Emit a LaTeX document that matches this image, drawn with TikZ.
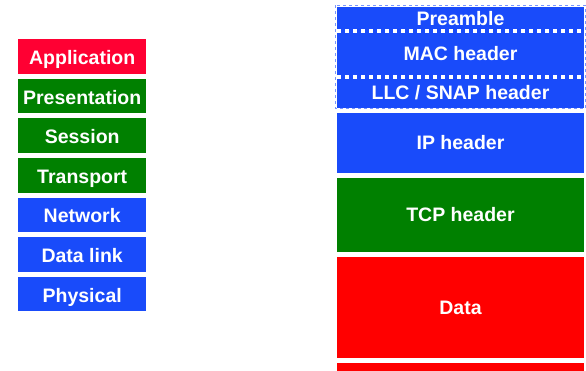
\documentclass[tikz,border=0pt]{standalone}
\usepackage{fontspec}
\setmainfont{Liberation Sans}
\usetikzlibrary{positioning}
\usetikzlibrary{calc}
\usetikzlibrary{matrix}

\definecolor{appred}{RGB}{255,0,51}
\definecolor{datared}{RGB}{255,0,0}
\definecolor{laygreen}{RGB}{0,128,0}
\definecolor{layblue}{RGB}{25,75,250}
\definecolor{framblue}{RGB}{120,150,255}

\tikzset{
  layer/.style={ minimum height = 34.5pt
               , minimum width = 128pt
               , text height = 16pt
               , text depth = 0pt
               , inner sep = 0pt
               , outer sep = 0pt
               , text = white
               },
  block/.style={ minimum width = 247pt
               , inner sep = 0pt
               , outer sep = 0pt
               , text = white
               },
  sepline/.style={white, line width=3.5pt, dash pattern=on 4pt off 4pt},
  linkframe/.style={framblue, line width=0.8pt, dash pattern=on 3pt off 3pt}
}

\begin{document}
\begin{tikzpicture}[x=1pt, y=1pt, font=\fontsize{19.5}{22}\selectfont\bfseries]

  \useasboundingbox (0,0) rectangle (586,-370);

  % OSI layers
  \matrix (layers) [matrix of nodes
    , anchor = north west
    , inner sep = 0pt
    , nodes = {layer}
    , row sep = 5.1pt]
    at (18,-39)
  {
    |[fill=appred]|   Application  \\
    |[fill=laygreen]| Presentation \\
    |[fill=laygreen]| Session      \\
    |[fill=laygreen]| Transport    \\
    |[fill=layblue]|  Network      \\
    |[fill=layblue]|  Data link    \\
    |[fill=layblue]|  Physical     \\
  };

  % frame layout
  \node (preamble) [block, fill=layblue, minimum height=24pt, anchor=north west] at (337,-7) {Preamble};
  \node (mac) [block, fill=layblue, minimum height=46pt, below=0pt of preamble] {MAC header};
  \node (llc) [block, fill=layblue, minimum height=31pt, below=0pt of mac] {LLC / SNAP header};
  \node (ip) [block, fill=layblue, minimum height=60pt, below=5pt of llc] {IP header};
  \node (tcp) [block, fill=laygreen, minimum height=74pt, below=5pt of ip] {TCP header};
  \node (data) [block, fill=datared, minimum height=101pt, below=5pt of tcp] {Data};
  \node (trailer) [block, fill=datared, minimum height=8pt, below=5pt of data] {};

  \draw [sepline] (preamble.south west) -- (preamble.south east);
  \draw [sepline] (mac.south west) -- (mac.south east);

  \draw [linkframe] ($(preamble.north west)+(-1.5,2)$) rectangle ($(llc.south east)+(1,-0.5)$);

\end{tikzpicture}
\end{document}
